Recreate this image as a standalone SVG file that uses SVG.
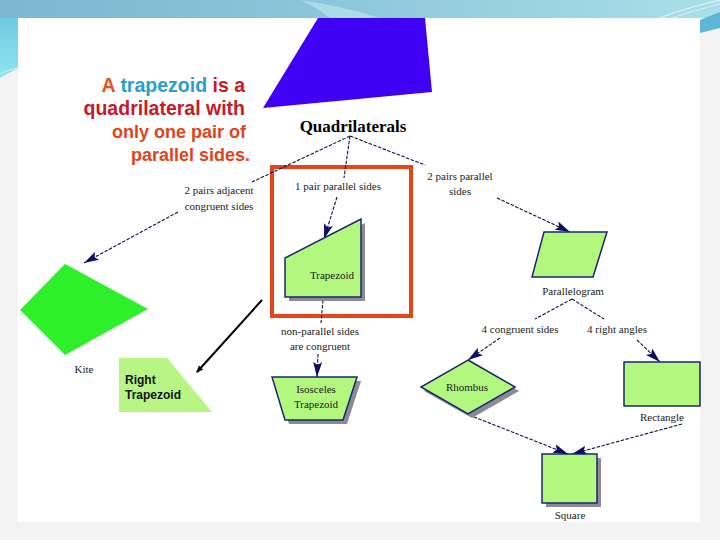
<svg xmlns="http://www.w3.org/2000/svg" width="720" height="540" viewBox="0 0 720 540">
<defs>
  <linearGradient id="band" x1="0" y1="0" x2="1" y2="0">
    <stop offset="0" stop-color="#7cb6d0"/>
    <stop offset="0.45" stop-color="#8cc6da"/>
    <stop offset="1" stop-color="#aadfe9"/>
  </linearGradient>
  <linearGradient id="side" x1="0" y1="0" x2="0" y2="1">
    <stop offset="0" stop-color="#6fcbe2"/>
    <stop offset="1" stop-color="#8fe4f0"/>
  </linearGradient>
  <marker id="arr" markerUnits="userSpaceOnUse" markerWidth="16" markerHeight="10" refX="15" refY="5" orient="auto">
    <path d="M0,0.5 L15,5 L0,9.5 L3,5 z" fill="#0c0c66"/>
  </marker>
  <marker id="arrb" markerUnits="userSpaceOnUse" markerWidth="8" markerHeight="8" refX="6" refY="4" orient="auto">
    <path d="M0,1 L7,4 L0,7 z" fill="#000"/>
  </marker>
</defs>
<style>
  .lbl { font-family: "Liberation Serif", "Times New Roman", serif; font-size: 11px; fill: #1a1a1a; text-anchor: middle; }
  .node { fill: #b2f87e; stroke: #1c2668; stroke-width: 1.5; }
  .shadow { fill: #8a8a9a; }
  .edge { stroke: #101040; stroke-width: 1.1; stroke-dasharray: 3.5 1.5; fill: none; }
  .head { font-family: "Liberation Sans", Arial, sans-serif; font-weight: bold; font-size: 19.5px; text-anchor: end; }
  .head2 { font-family: "Liberation Sans", Arial, sans-serif; font-weight: bold; font-size: 18px; text-anchor: end; fill: #e0441a; }
</style>

<!-- slide background -->
<rect x="0" y="0" width="720" height="540" fill="#f3f3f3"/>
<rect x="0" y="0" width="720" height="18" fill="url(#band)"/>
<path d="M300,0 C340,6 360,12 380,18 L330,18 C320,10 310,4 300,0 z" fill="#b6e4ee" opacity="0.7"/>
<path d="M0,18 L18,18 L18,68 L0,78 z" fill="url(#side)"/>
<path d="M0,74 C6,71 12,69 18,68" stroke="#cfeff6" stroke-width="1" fill="none"/>
<path d="M700,20 L720,12 L720,28 L700,33 z" fill="#5cb6d6"/>
<path d="M660,18 C680,10 700,5 720,0" stroke="#e4f6fa" stroke-width="1" fill="none"/>
<path d="M672,18 C690,12 705,8 720,4" stroke="#e4f6fa" stroke-width="0.8" fill="none"/>
<rect x="18" y="18" width="682" height="504" fill="#ffffff"/>

<!-- blue shape -->
<polygon id="blue-shape" points="318,18 425,18 432,92 263,108" fill="#4000f4"/>

<!-- heading text -->
<g id="definition">
  <text class="head" x="245" y="92"><tspan fill="#e4531c">A </tspan><tspan fill="#2a9ec8">trapezoid </tspan><tspan fill="#cc1a22">is a</tspan></text>
  <text class="head" x="245" y="115" fill="#c8182a">quadrilateral with</text>
  <text class="head2" x="246" y="138">only one pair of</text>
  <text class="head2" x="250" y="161">parallel sides.</text>
</g>

<!-- highlight box -->
<rect id="highlight" x="272" y="167" width="139" height="149" fill="none" stroke="#e8441a" stroke-width="4"/>

<!-- connectors -->
<g id="connectors">
  <line class="edge" x1="350" y1="136" x2="252" y2="182"/>
  <line class="edge" x1="178" y1="212" x2="84" y2="263" marker-end="url(#arr)"/>
  <line class="edge" x1="350" y1="136" x2="344" y2="178"/>
  <line class="edge" x1="337" y1="197" x2="324" y2="239" marker-end="url(#arr)"/>
  <line class="edge" x1="350" y1="136" x2="425" y2="165"/>
  <line class="edge" x1="497" y1="198" x2="570" y2="232" marker-end="url(#arr)"/>
  <line class="edge" x1="323" y1="300" x2="321" y2="323"/>
  <line class="edge" x1="318" y1="354" x2="317" y2="377" marker-end="url(#arr)"/>
  <line class="edge" x1="572" y1="299" x2="535" y2="319"/>
  <line class="edge" x1="500" y1="338" x2="468" y2="360" marker-end="url(#arr)"/>
  <line class="edge" x1="572" y1="299" x2="604" y2="319"/>
  <line class="edge" x1="637" y1="340" x2="660" y2="362" marker-end="url(#arr)"/>
  <line class="edge" x1="469" y1="415" x2="568" y2="454" marker-end="url(#arr)"/>
  <line class="edge" x1="682" y1="424" x2="572" y2="454" marker-end="url(#arr)"/>
  <line x1="262" y1="300" x2="197" y2="372" stroke="#000" stroke-width="2" marker-end="url(#arrb)"/>
</g>

<!-- edge labels -->
<g id="edge-labels">
  <text class="lbl" x="219" y="194">2 pairs adjacent</text>
  <text class="lbl" x="219" y="210">congruent sides</text>
  <text class="lbl" x="338" y="190">1 pair parallel sides</text>
  <text class="lbl" x="460" y="180">2 pairs parallel</text>
  <text class="lbl" x="460" y="195">sides</text>
  <text class="lbl" x="320" y="335">non-parallel sides</text>
  <text class="lbl" x="320" y="350">are congruent</text>
  <text class="lbl" x="520" y="333">4 congruent sides</text>
  <text class="lbl" x="617" y="333">4 right angles</text>
</g>

<!-- nodes -->
<g id="quadrilaterals">
  <text x="353" y="132" font-family="'Liberation Serif', 'Times New Roman', serif" font-weight="bold" font-size="17" text-anchor="middle" fill="#000">Quadrilaterals</text>
</g>

<g id="kite">
  <polygon points="65,264 148,309 65,355 20,310" fill="#2ef02a"/>
  <text class="lbl" x="84" y="373">Kite</text>
</g>

<g id="right-trapezoid">
  <polygon points="119,358 167,358 212,412 119,412" fill="#b8f584"/>
  <text x="125" y="384" font-family="'Liberation Sans', Arial, sans-serif" font-weight="bold" font-size="12" fill="#111">Right</text>
  <text x="125" y="399" font-family="'Liberation Sans', Arial, sans-serif" font-weight="bold" font-size="12" fill="#111">Trapezoid</text>
</g>

<g id="trapezoid">
  <polygon class="shadow" points="289,262 365,223 365,301 289,301"/>
  <polygon class="node" points="285,258 361,219 361,297 285,297"/>
  <text class="lbl" x="332" y="279">Trapezoid</text>
</g>

<g id="isosceles-trapezoid">
  <polygon class="shadow" points="276,381 361,381 347,424 289,424"/>
  <polygon class="node" points="272,377 357,377 343,420 285,420"/>
  <text class="lbl" x="316" y="393">Isosceles</text>
  <text class="lbl" x="316" y="408">Trapezoid</text>
</g>

<g id="parallelogram">
  <polygon class="node" points="544,232 607,232 593,277 532,277"/>
  <text class="lbl" x="573" y="295">Parallelogram</text>
</g>

<g id="rhombus">
  <polygon class="shadow" points="472,364 519,391 472,418 424,391"/>
  <polygon class="node" points="468,360 515,387 468,414 421,387"/>
  <text class="lbl" x="467" y="391">Rhombus</text>
</g>

<g id="rectangle">
  <rect class="node" x="624" y="362" width="76" height="44"/>
  <text class="lbl" x="662" y="421">Rectangle</text>
</g>

<g id="square">
  <rect class="shadow" x="546" y="458" width="55" height="49"/>
  <rect class="node" x="542" y="454" width="55" height="49"/>
  <text class="lbl" x="570" y="519">Square</text>
</g>
</svg>
